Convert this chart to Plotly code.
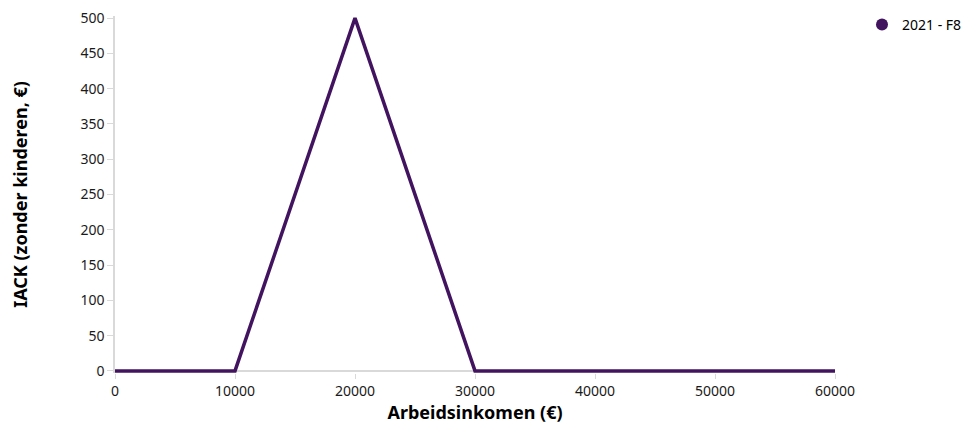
import plotly.graph_objects as go

# Arbeidsinkomen (EUR) and IACK without children
inkomen = [0, 5000, 10000, 20000, 30000, 40000, 50000, 60000]
iack = [0, 0, 0, 500, 0, 0, 0, 0]
series_name = "2021 - F8"

PURPLE = "#42145f"
GRID = "#d9d9d9"
FONT = "Noto Sans"

fig = go.Figure()

# line itself
fig.add_trace(
    go.Scatter(
        x=inkomen,
        y=iack,
        mode="lines",
        line=dict(color=PURPLE, width=3.5),
        showlegend=False,
        hoverinfo="x+y",
    )
)

# legend entry with a dot only
fig.add_trace(
    go.Scatter(
        x=[None],
        y=[None],
        mode="markers",
        marker=dict(color=PURPLE, size=9),
        name=series_name,
    )
)

# page body has an 8px margin, so margins are shifted to compensate
fig.update_layout(
    width=976,
    height=443,
    margin=dict(l=107, r=149, t=8, b=78, autoexpand=False),
    paper_bgcolor="white",
    plot_bgcolor="white",
    font=dict(family=FONT, size=14, color="#1a1a1a"),
    showlegend=True,
    legend=dict(
        x=1.0375,
        y=1.02,
        xanchor="left",
        yanchor="top",
        font=dict(size=14, color="#000000"),
        itemsizing="constant",
        itemwidth=30,
        bgcolor="rgba(0,0,0,0)",
    ),
    xaxis=dict(
        range=[0, 60000],
        tickvals=[0, 10000, 20000, 30000, 40000, 50000, 60000],
        ticktext=["0", "10000", "20000", "30000", "40000", "50000", "60000"],
        showgrid=False,
        zeroline=False,
        showline=False,
        ticks="outside",
        ticklen=5,
        tickcolor=GRID,
        tickfont=dict(size=14),
        automargin=False,
        title=dict(text="<b>Arbeidsinkomen (€)</b>", font=dict(size=18, color="#000000"), standoff=0),
    ),
    yaxis=dict(
        range=[-3, 503],
        tickvals=[0, 50, 100, 150, 200, 250, 300, 350, 400, 450, 500],
        showgrid=False,
        zeroline=True,
        zerolinecolor=GRID,
        zerolinewidth=1.5,
        showline=True,
        linecolor=GRID,
        linewidth=1.5,
        ticks="outside",
        ticklen=6,
        tickcolor=GRID,
        tickfont=dict(size=14),
        automargin=False,
        title=dict(text="<b>IACK (zonder kinderen, €)</b>", font=dict(size=18, color="#000000"), standoff=48),
    ),
)

fig.write_html("out.html")
